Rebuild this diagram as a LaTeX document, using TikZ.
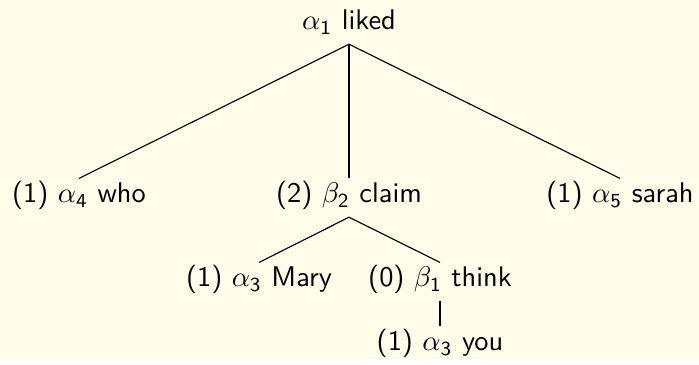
\documentclass[tikz,border=0pt]{standalone}
\usepackage{xcolor}
\usepackage{tikz}
\usetikzlibrary{positioning}
\definecolor{paper}{HTML}{FFFCE9}
\definecolor{ink}{HTML}{000000}
\newcommand{\tg}[2]{$#1_{\mathsf{#2}}$}

\begin{document}
\begin{tikzpicture}[x=0.352pt,y=-0.352pt,
    tnode/.style={font=\sffamily,inner sep=0pt,anchor=base,text height=8.45pt,text depth=4.8pt},
    branch/.style={draw=ink,line width=0.4pt}]
  \fill[paper] (0,0) rectangle (699,359);
  % root
  \node[tnode] (liked) at (349,30) {\tg{\alpha}{1} liked};
  % first level
  \node[tnode] (who) at (79,203) {(1) \tg{\alpha}{4} who};
  \node[tnode] (claim) at (349,203) {(2) \tg{\beta}{2} claim};
  \node[tnode] (sarah) at (620,203) {(1) \tg{\alpha}{5} sarah};
  % under claim
  \node[tnode] (mary) at (259,287) {(1) \tg{\alpha}{3} Mary};
  \node[tnode] (think) at (440,287) {(0) \tg{\beta}{1} think};
  \node[tnode] (you) at (440,351) {(1) \tg{\alpha}{3} you};
  \draw[branch] (liked.south) -- (who.north);
  \draw[branch] (liked.south) -- (claim.north);
  \draw[branch] (liked.south) -- (sarah.north);
  \draw[branch] (claim.south) -- (mary.north);
  \draw[branch] (claim.south) -- (think.north);
  \draw[branch] (think.south) -- (you.north);
\end{tikzpicture}
\end{document}
